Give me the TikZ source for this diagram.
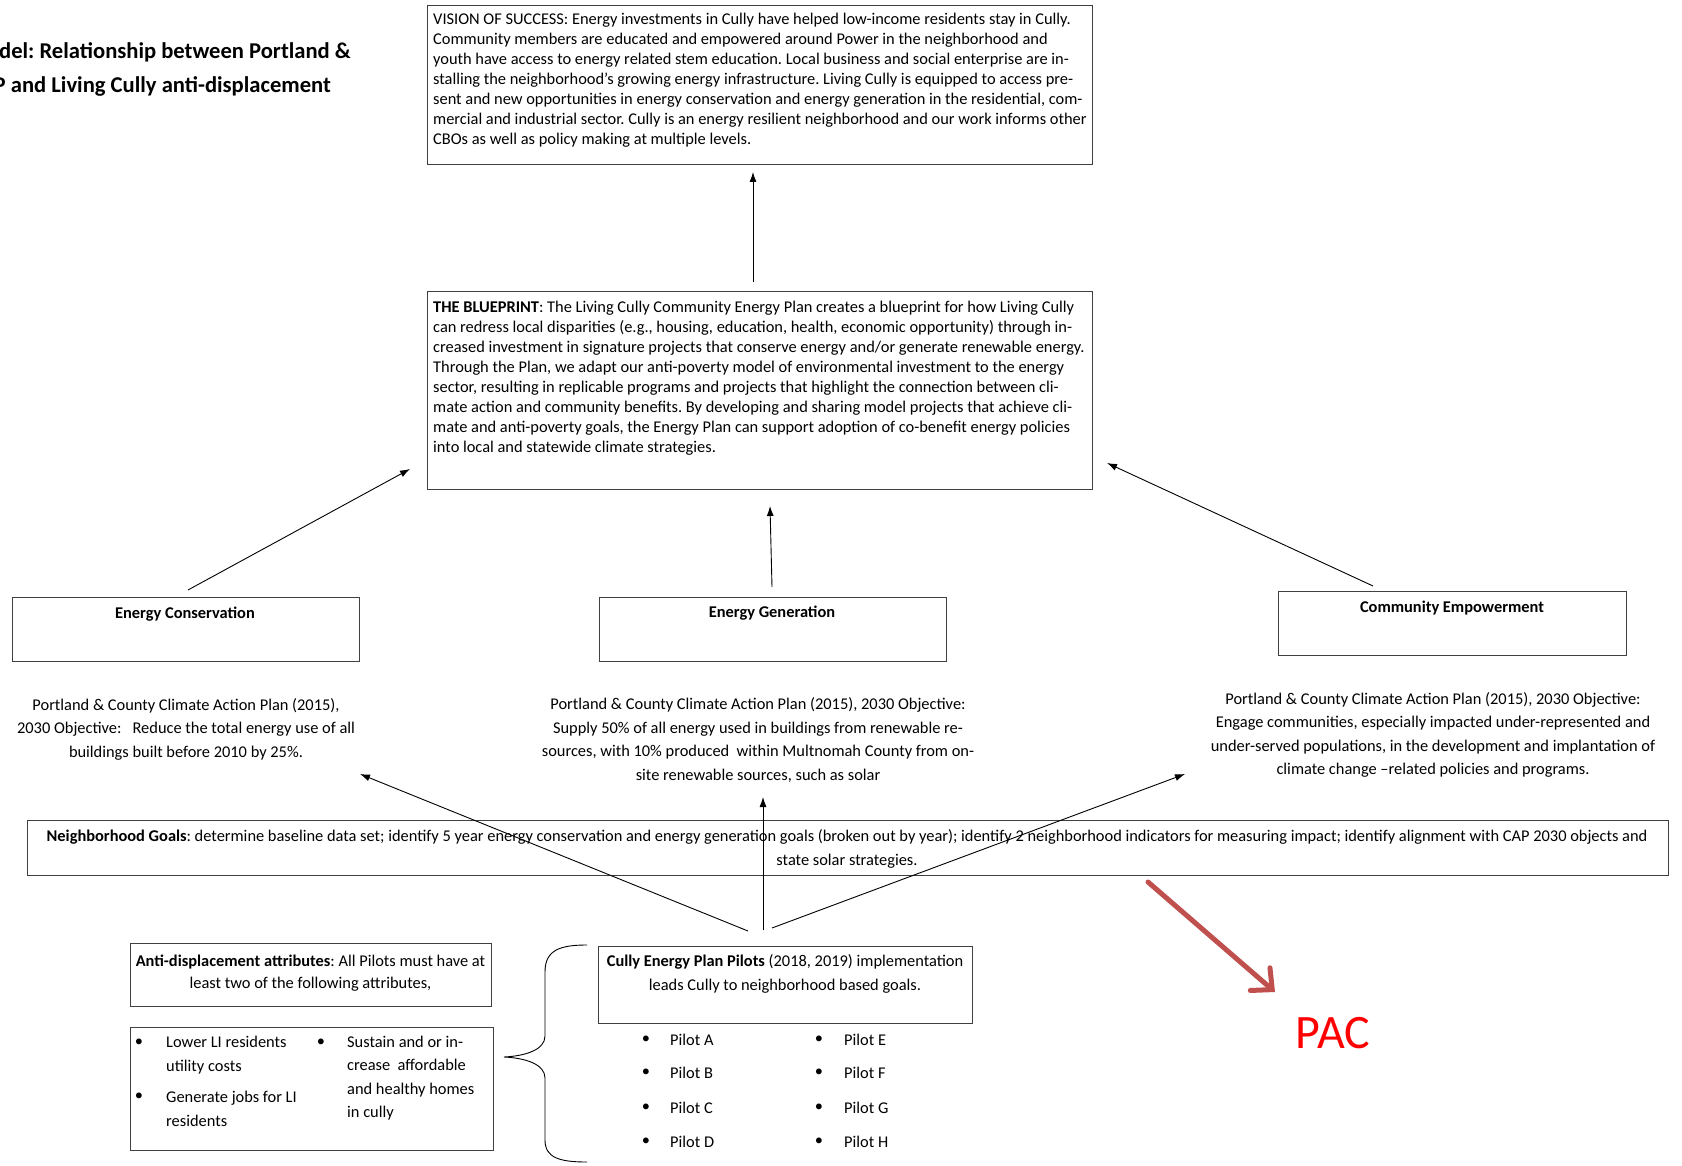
\documentclass[tikz,border=0pt]{standalone}
\usepackage{fontspec}
\setmainfont{Carlito}
\usetikzlibrary{arrows.meta}
\definecolor{pacarrow}{HTML}{C0504D}
\definecolor{pactext}{HTML}{FF0000}
\definecolor{boxline}{HTML}{404040}
\frenchspacing
\begin{document}
\begin{tikzpicture}[x=1pt,y=-1pt,
  box/.style={draw=boxline, line width=1.2pt, rectangle, inner sep=0pt, anchor=north west},
  body/.style={font=\fontsize{16.4}{20}\selectfont, inner sep=0pt, align=left, anchor=west},
  ctext/.style={font=\fontsize{16.4}{23.5}\selectfont, inner sep=0pt, align=center},
  btitle/.style={font=\fontsize{16.4}{19}\selectfont\bfseries, inner sep=0pt},
  bul/.style={font=\fontsize{16.4}{19}\selectfont, inner sep=0pt},
  arr/.style={-{Latex[length=10pt,width=7pt]}, line width=0.9pt},
]
\path[use as bounding box] (0,0) rectangle (1682,1166);

% title (cropped at left edge)
\begin{scope}
\clip (0,0) rectangle (1682,1166);
\node[font=\fontsize{22.6}{30}\selectfont\bfseries, inner sep=0pt, anchor=east] (title1) at (351,52) {del: Relationship between Portland \&};
\node[font=\fontsize{22.6}{30}\selectfont\bfseries, inner sep=0pt, anchor=east] (title2) at (331,86) {P and Living Cully anti-displacement};
\end{scope}

% vision
\node[box, minimum width=665, minimum height=159] (vision) at (427,5) {};
\node[body] (visiontext) at (433,80.5) {VISION OF SUCCESS: Energy investments in Cully have helped low-income residents stay in Cully.\\
Community members are educated and empowered around Power in the neighborhood and\\
youth have access to energy related stem education. Local business and social enterprise are in-\\
stalling the neighborhood’s growing energy infrastructure. Living Cully is equipped to access pre-\\
sent and new opportunities in energy conservation and energy generation in the residential, com-\\
mercial and industrial sector. Cully is an energy resilient neighborhood and our work informs other\\
CBOs as well as policy making at multiple levels.};

% blueprint
\node[box, minimum width=665, minimum height=198] (blueprint) at (427,291) {};
\node[body] (blueprinttext) at (433,378) {\textbf{THE BLUEPRINT}: The Living Cully Community Energy Plan creates a blueprint for how Living Cully\\
can redress local disparities (e.g., housing, education, health, economic opportunity) through in-\\
creased investment in signature projects that conserve energy and/or generate renewable energy.\\
Through the Plan, we adapt our anti-poverty model of environmental investment to the energy\\
sector, resulting in replicable programs and projects that highlight the connection between cli-\\
mate action and community benefits. By developing and sharing model projects that achieve cli-\\
mate and anti-poverty goals, the Energy Plan can support adoption of co-benefit energy policies\\
into local and statewide climate strategies.};

% three pillars
\node[box, minimum width=347, minimum height=64] (ec) at (12,597) {};
\node[btitle] (ectitle) at (185,614) {Energy Conservation};
\node[box, minimum width=347, minimum height=64] (eg) at (599,597) {};
\node[btitle] (egtitle) at (772,613) {Energy Generation};
\node[box, minimum width=348, minimum height=64] (ce) at (1278,591) {};
\node[btitle] (cetitle) at (1452,608) {Community Empowerment};

% objectives
\node[ctext] (ecobj) at (186,729) {Portland \& County Climate Action Plan (2015),\\
2030 Objective:\ \ \ Reduce the total energy use of all\\
buildings built before 2010 by 25\%.};
\node[ctext] (egobj) at (758,740) {Portland \& County Climate Action Plan (2015), 2030 Objective:\\
Supply 50\% of all energy used in buildings from renewable re-\\
sources, with 10\% produced\ \ within Multnomah County from on-\\
site renewable sources, such as solar};
\node[ctext] (ceobj) at (1433,735) {Portland \& County Climate Action Plan (2015), 2030 Objective:\\
Engage communities, especially impacted under-represented and\\
under-served populations, in the development and implantation of\\
climate change –related policies and programs.};

% neighborhood goals
\node[box, minimum width=1641, minimum height=55] (ngoals) at (27,820) {};
\node[ctext, font=\fontsize{16.4}{24}\selectfont] (ngoalstext) at (847,849) {\textbf{Neighborhood Goals}: determine baseline data set; identify 5 year energy conservation and energy generation goals (broken out by year); identify 2 neighborhood indicators for measuring impact; identify alignment with CAP 2030 objects and\\
state solar strategies.};

% anti-displacement
\node[box, minimum width=361, minimum height=63] (anti) at (130,943) {};
\node[ctext, font=\fontsize{16.4}{22}\selectfont] (antitext) at (310.5,973) {\textbf{Anti-displacement attributes}: All Pilots must have at\\
least two of the following attributes,};
\node[box, minimum width=363, minimum height=123] (attr) at (130,1027) {};
\node[bul] (b1) at (139,1043) {•};
\node[bul] (b2) at (139,1097) {•};
\node[bul] (b3) at (321,1043) {•};
\node[body, font=\fontsize{16.4}{24}\selectfont] (attr1) at (166,1055) {Lower LI residents\\utility costs};
\node[body, font=\fontsize{16.4}{24}\selectfont] (attr2) at (166,1109) {Generate jobs for LI\\residents};
\node[body, font=\fontsize{16.4}{23.3}\selectfont] (attr3) at (347,1078) {Sustain and or in-\\crease\ \ affordable\\and healthy homes\\in cully};

% brace
\draw[line width=0.9pt] (587,945) .. controls (560,945) and (545,950) .. (545,972) -- (545,1036) .. controls (545,1050) and (525,1056) .. (504,1057) .. controls (525,1058) and (545,1064) .. (545,1078) -- (545,1140) .. controls (545,1158) and (560,1162) .. (587,1162);

% pilots
\node[box, minimum width=374, minimum height=77] (pilots) at (598,946) {};
\node[ctext, font=\fontsize{16.4}{24}\selectfont] (pilotstext) at (785,974) {\textbf{Cully Energy Plan Pilots} (2018, 2019) implementation\\
leads Cully to neighborhood based goals.};
\foreach \n/\y [count=\i] in {A/1040,B/1073,C/1108,D/1142}{
  \node[bul] (pb\i) at (646,\y) {•};
  \node[body, font=\fontsize{16.4}{19}\selectfont] (pilot\n) at (670,\y) {Pilot \n};
}
\foreach \n/\y [count=\i] in {E/1040,F/1073,G/1108,H/1142}{
  \node[bul] (pc\i) at (819,\y) {•};
  \node[body, font=\fontsize{16.4}{19}\selectfont] (pilot\n) at (844,\y) {Pilot \n};
}

% arrow end points
\coordinate (bpS) at (753,282);
\coordinate (visE) at (753,172);
\coordinate (ecS) at (188,590);
\coordinate (ecE) at (410,469);
\coordinate (egS) at (772,587);
\coordinate (egE) at (770,506);
\coordinate (ceS) at (1373,586);
\coordinate (ceE) at (1107,463);
\coordinate (plS) at (748,931);
\coordinate (plE) at (360,774);
\coordinate (pmS) at (763,930);
\coordinate (pmE) at (763,797);
\coordinate (prS) at (772,928);
\coordinate (prE) at (1185,774);

\draw[arr] (bpS) -- (visE);
\draw[arr] (ecS) -- (ecE);
\draw[arr] (egS) -- (egE);
\draw[arr] (ceS) -- (ceE);
\draw[arr] (plS) -- (plE);
\draw[arr] (pmS) -- (pmE);
\draw[arr] (prS) -- (prE);

% PAC
\coordinate (pacS) at (1148,882);
\coordinate (pacE) at (1275,992);
\draw[pacarrow, line width=5pt, line cap=round, line join=round, -{Straight Barb[length=16pt,width=30pt,line cap=round]}] (pacS) -- (pacE);
\node[font=\fontsize{48}{52}\selectfont, text=pactext, inner sep=0pt] (pac) at (1333,1033) {PAC};
\end{tikzpicture}
\end{document}
